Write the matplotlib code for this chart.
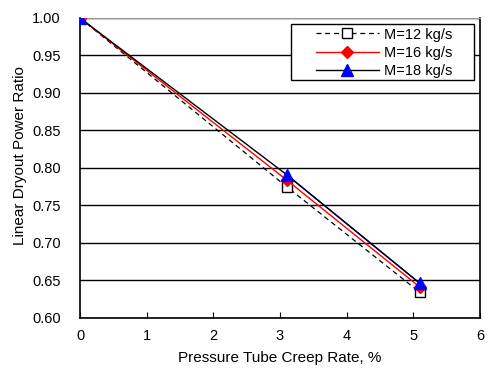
import numpy as np
import matplotlib
matplotlib.use("Agg")
from matplotlib import pyplot as plt
from matplotlib.patches import Rectangle

plt.rcParams['font.family'] = ['Liberation Sans', 'DejaVu Sans']
plt.rcParams['font.size'] = 10.5

creep = [0, 3.1, 5.1]
m12 = [1.0, 0.775, 0.634]
m16 = [1.0, 0.784, 0.641]
m18 = [1.0, 0.791, 0.646]

fig = plt.figure(figsize=(4.89, 3.71), dpi=100)
ax = fig.add_axes([0.1636, 0.1429, 0.818, 0.8086])

ax.plot(creep, m12, color='black', linestyle=(0, (4, 3)), linewidth=0.9,
        marker='s', markerfacecolor='white', markeredgecolor='black', markersize=7,
        label='M=12 kg/s', zorder=3)
ax.plot(creep, m16, color='red', linewidth=1.0, marker='D', markersize=6,
        markerfacecolor='red', markeredgecolor='red', label='M=16 kg/s', zorder=4)
ax.plot(creep, m18, color='black', linewidth=1.0, marker='^', markersize=8,
        markerfacecolor='blue', markeredgecolor='blue', label='M=18 kg/s', zorder=5)
ax.plot(creep[1:], m18[1:], color='blue', linewidth=1.0, zorder=4.5)

ax.set_xlim(0, 6)
ax.set_ylim(0.60, 1.00)
ax.set_xticks(range(0, 7))
ax.set_yticks(np.arange(0.60, 1.001, 0.05))
ax.set_yticklabels(['%.2f' % v for v in np.arange(0.60, 1.001, 0.05)])
ax.yaxis.grid(True, color='black', linewidth=1.0)
ax.set_axisbelow(True)
ax.tick_params(axis='x', direction='in', length=4, pad=8)
ax.tick_params(axis='y', length=0, pad=14)
ax.spines['top'].set_color('#999999')
for s in ['left', 'bottom', 'right']:
    ax.spines[s].set_linewidth(1.2)

ax.set_xlabel('Pressure Tube Creep Rate, %', fontsize=11, labelpad=6)
ax.set_ylabel('Linear Dryout Power Ratio', fontsize=11)
ax.yaxis.set_label_coords(-0.133, 0.54)

# legend box drawn separately so the padding can be wider than tall
ax.add_patch(Rectangle((0.5275, 0.793), 0.4575, 0.187, transform=ax.transAxes,
                       facecolor='white', edgecolor='black', linewidth=1.0, zorder=6))
leg = ax.legend(loc='upper left', bbox_to_anchor=(0.59, 0.968), frameon=False,
                handlelength=4.3, borderpad=0, labelspacing=0.3,
                handletextpad=0.35, borderaxespad=0)
leg.set_zorder(7)

fig.savefig('out.png', dpi=100)
